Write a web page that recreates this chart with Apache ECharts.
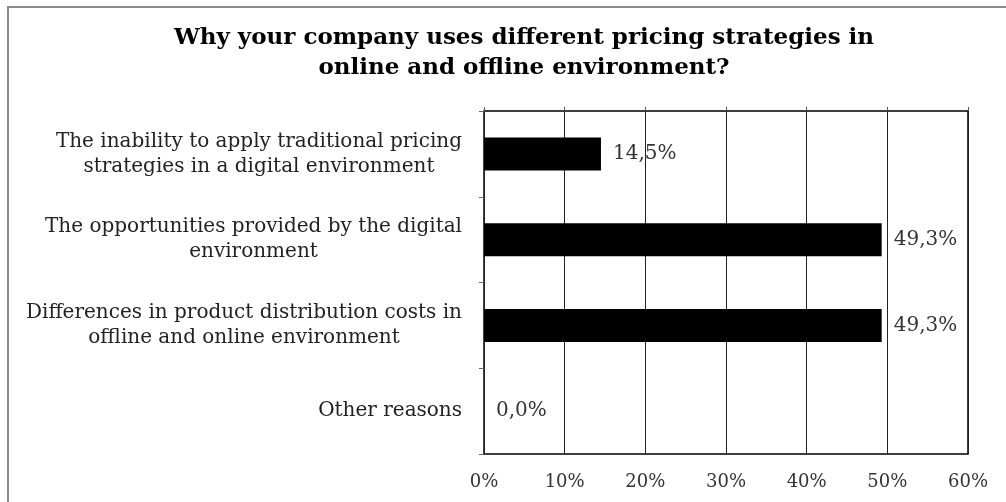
<!DOCTYPE html>
<html>
<head>
<meta charset="utf-8">
<script src="https://cdn.jsdelivr.net/npm/echarts@6/dist/echarts.min.js"></script>
<style>
  html, body { margin: 0; padding: 0; background: #fff; }
  #frame { position: absolute; left: 7px; top: 6px; width: 1010px; height: 520px;
           border-left: 2px solid #8a8a8a; border-top: 2px solid #8a8a8a; box-sizing: border-box; }
  #chart { position: absolute; left: 0; top: 0; width: 1006px; height: 502px; }
</style>
</head>
<body>
<div id="frame"></div>
<div id="chart"></div>
<script>
const titleText = 'Why your company uses different pricing strategies in\nonline and offline environment?';
const categories = [
  'The inability to apply traditional pricing\nstrategies in a digital environment',
  'The opportunities provided by the digital\nenvironment',
  'Differences in product distribution costs in\noffline and online environment',
  'Other reasons'
];
const shares = [14.5, 49.3, 49.3, 0.0];
const tickValues = [0, 10, 20, 30, 40, 50, 60];

const serif = '"DejaVu Serif", serif';
const chart = echarts.init(document.getElementById('chart'), null, { renderer: 'canvas' });

chart.setOption({
  backgroundColor: 'transparent',
  animation: false,
  title: {
    text: titleText,
    left: 519,
    textAlign: 'center',
    top: 18,
    textStyle: { fontFamily: serif, fontWeight: 'bold', fontSize: 23, lineHeight: 30, color: '#000' }
  },
  grid: { left: 484, right: 38, top: 111, bottom: 48, containLabel: false,
          show: true, borderColor: '#000', borderWidth: 1.5 },
  xAxis: [{
    type: 'value', min: tickValues[0], max: tickValues[tickValues.length - 1], interval: 10,
    position: 'bottom',
    axisLine: { show: false },
    axisTick: { show: false },
    splitLine: { show: true, lineStyle: { color: '#222', width: 1 } },
    axisLabel: { margin: 19, fontFamily: serif, fontSize: 18, color: '#333',
                 formatter: v => v + '%' }
  }, {
    type: 'value', min: tickValues[0], max: tickValues[tickValues.length - 1], interval: 10,
    position: 'top',
    axisLine: { show: false },
    axisTick: { show: true, length: 4, lineStyle: { color: '#555' } },
    axisLabel: { show: false },
    splitLine: { show: false }
  }],
  yAxis: {
    type: 'category', data: categories, inverse: true,
    axisLine: { show: false },
    axisTick: { show: true, length: 5, lineStyle: { color: '#666' } },
    axisLabel: {
      margin: 22, fontFamily: serif, fontSize: 20, color: '#222', lineHeight: 25,
      formatter: v => v.split('\n').map(s => '{c|' + s + '}').join('\n'),
      rich: { c: { align: 'center', fontFamily: serif, fontSize: 20, color: '#222', lineHeight: 25 } }
    }
  },
  series: [{
    type: 'bar', data: shares, barWidth: 33,
    itemStyle: { color: '#000' },
    label: { show: true, position: 'right', distance: 12, fontFamily: serif, fontSize: 20,
             color: '#333', formatter: p => p.value.toFixed(1).replace('.', ',') + '%' }
  }]
});
</script>
</body>
</html>
